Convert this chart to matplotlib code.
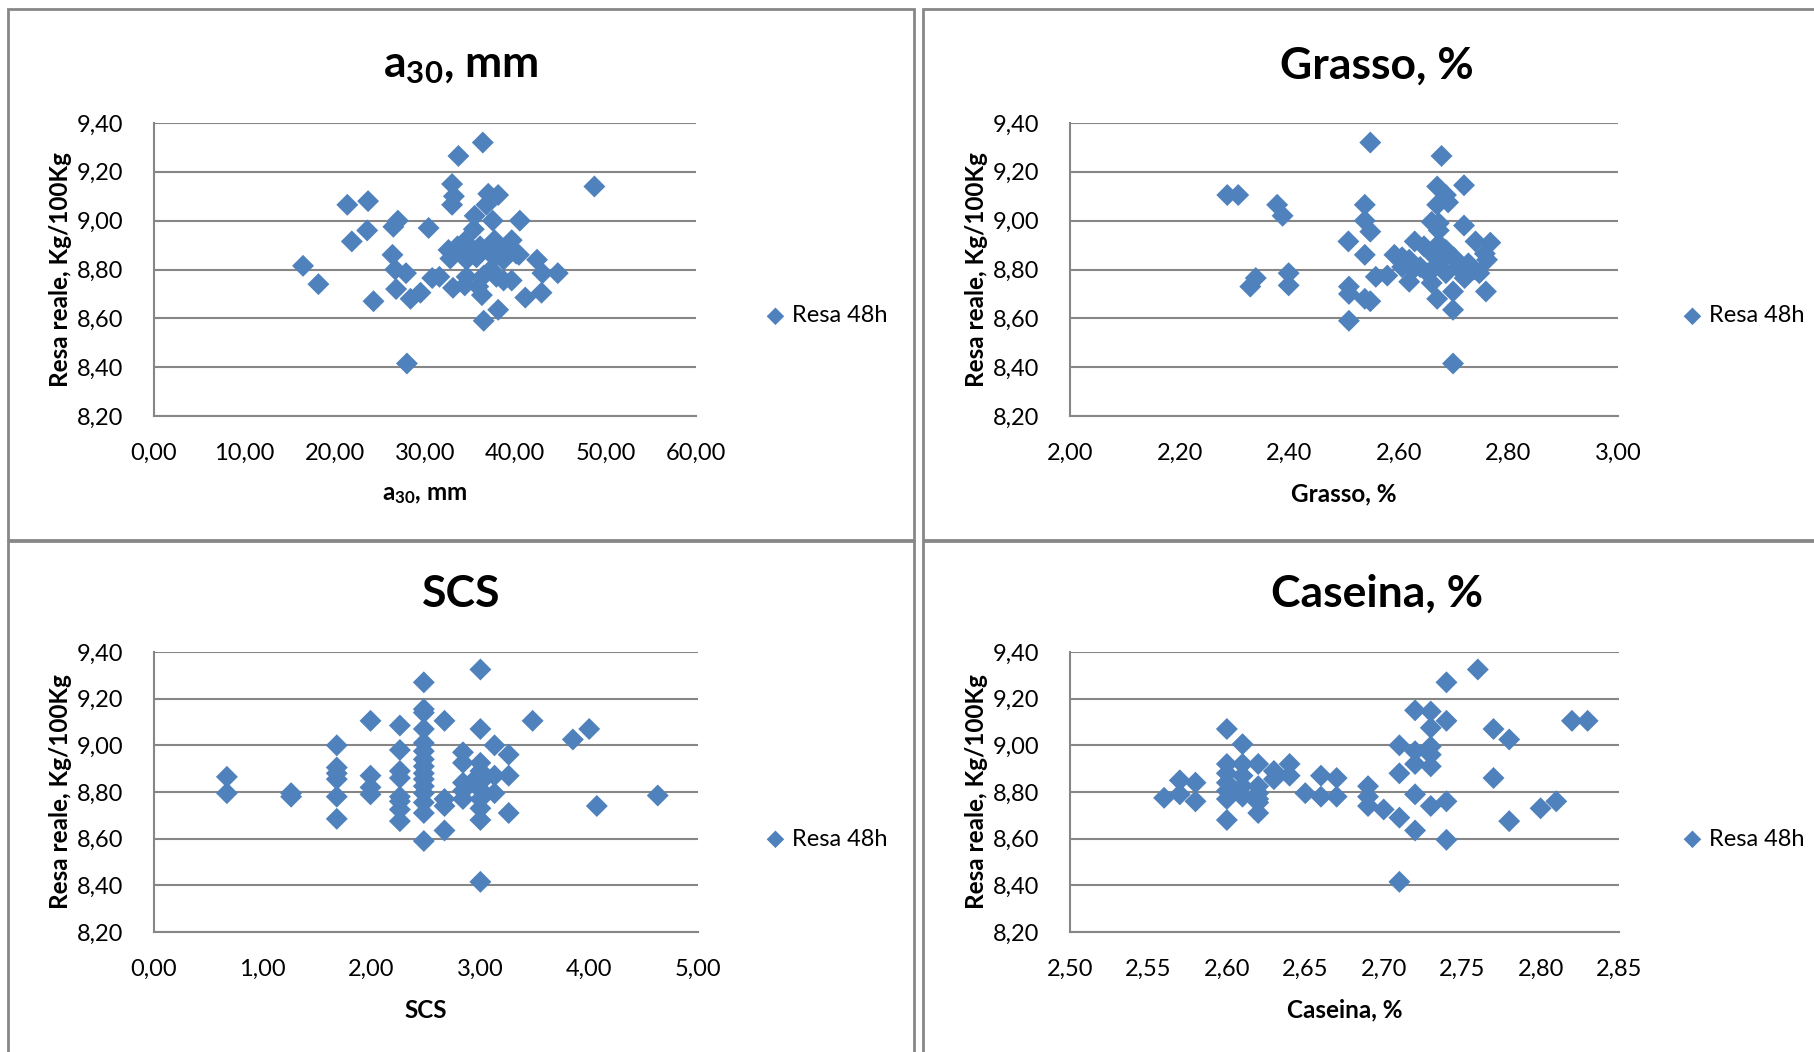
import matplotlib
matplotlib.use("Agg")
import matplotlib.pyplot as plt
from matplotlib.patches import Rectangle
from matplotlib.ticker import FuncFormatter, MultipleLocator

plt.rcParams['font.family'] = ['Lato', 'DejaVu Sans']
plt.rcParams['mathtext.fontset'] = 'custom'
plt.rcParams['mathtext.rm'] = 'Lato:bold'
plt.rcParams['mathtext.it'] = 'Lato:bold'
plt.rcParams['mathtext.bf'] = 'Lato:bold'
plt.rcParams['mathtext.default'] = 'rm'

# --- data (Resa reale, Kg/100Kg) ---
a30_x = [36.4, 33.7, 48.75, 33.0, 33.2, 33.0, 37.0, 38.1, 36.8, 21.4, 23.7, 35.5,
         37.5, 40.5, 27.0, 26.5, 30.4, 23.6, 21.9, 35.4, 16.5, 18.2, 26.4, 26.7,
         27.9, 26.8, 28.4, 29.5, 24.3, 30.8, 31.6, 28.0, 33.1, 36.5, 38.1, 41.1,
         42.9, 42.4, 43.0, 44.7, 39.6, 40.1, 37.7, 32.6, 32.8, 33.6, 34.4, 35.0,
         35.7, 34.6, 34.0, 36.1, 36.9, 37.7, 38.3, 38.7, 37.3, 36.5, 37.9, 38.7,
         39.6, 34.6, 34.4, 36.3, 35.9, 39.3, 40.4]
a30_y = [9.32, 9.265, 9.14, 9.15, 9.10, 9.065, 9.11, 9.105, 9.065, 9.065, 9.08, 9.02,
         9.00, 9.00, 9.00, 8.975, 8.97, 8.96, 8.915, 8.965, 8.815, 8.74, 8.86, 8.80,
         8.785, 8.72, 8.68, 8.705, 8.67, 8.765, 8.77, 8.415, 8.725, 8.59, 8.635, 8.685,
         8.705, 8.84, 8.785, 8.785, 8.92, 8.865, 8.92, 8.88, 8.845, 8.895, 8.915, 8.88,
         8.85, 8.84, 8.865, 8.895, 8.88, 8.85, 8.88, 8.84, 8.80, 8.775, 8.77, 8.755,
         8.755, 8.77, 8.735, 8.695, 8.73, 8.88, 8.86]

grasso_x = [2.548, 2.678, 2.719, 2.287, 2.307, 2.378, 2.388, 2.538, 2.538, 2.548,
            2.670, 2.686, 2.690, 2.670, 2.719, 2.508, 2.538, 2.339, 2.329, 2.399,
            2.399, 2.509, 2.509, 2.538, 2.548, 2.509, 2.699, 2.699, 2.670, 2.699,
            2.759, 2.619, 2.558, 2.579, 2.592, 2.606, 2.629, 2.660, 2.673, 2.740,
            2.767, 2.757, 2.761, 2.747, 2.720, 2.646, 2.660, 2.673, 2.686, 2.680,
            2.666, 2.653, 2.686, 2.707, 2.700, 2.639, 2.619, 2.626, 2.606, 2.660,
            2.727, 2.737, 2.673]
grasso_y = [9.32, 9.265, 9.145, 9.105, 9.105, 9.065, 9.02, 9.065, 9.00, 8.955,
            9.14, 9.105, 9.075, 9.065, 8.98, 8.915, 8.86, 8.765, 8.73, 8.785,
            8.735, 8.73, 8.70, 8.68, 8.67, 8.59, 8.415, 8.635, 8.68, 8.71,
            8.71, 8.75, 8.77, 8.775, 8.86, 8.85, 8.915, 8.995, 8.99, 8.915,
            8.91, 8.865, 8.84, 8.785, 8.765, 8.895, 8.865, 8.905, 8.88, 8.84,
            8.81, 8.785, 8.785, 8.81, 8.85, 8.81, 8.84, 8.80, 8.81, 8.745,
            8.825, 8.80, 8.96]

scs_x = [0.67, 0.67, 1.26, 1.26,
         1.68, 1.68, 1.68, 1.68, 1.68, 1.68,
         1.99, 1.99, 1.99, 1.99,
         2.26, 2.26, 2.26, 2.26, 2.26, 2.26, 2.26, 2.26,
         2.48, 2.48, 2.48, 2.48, 2.48, 2.48, 2.48, 2.48, 2.48, 2.48, 2.48, 2.48,
         2.48, 2.48, 2.48,
         2.67, 2.67, 2.67, 2.67,
         2.84, 2.84, 2.84, 2.84, 2.84,
         3.00, 3.00, 3.00, 3.00, 3.00, 3.00, 3.00, 3.00, 3.00, 3.00,
         3.13, 3.13, 3.13, 3.26, 3.26, 3.26, 3.48, 3.85, 4.00, 4.07, 4.63,
         2.93, 3.04]
scs_y = [8.865, 8.795, 8.795, 8.78,
         9.00, 8.905, 8.88, 8.855, 8.78, 8.685,
         9.105, 8.87, 8.82, 8.79,
         9.085, 8.98, 8.89, 8.86, 8.78, 8.76, 8.725, 8.675,
         9.27, 9.155, 9.14, 9.07, 9.01, 8.975, 8.94, 8.91, 8.88, 8.855, 8.825, 8.795,
         8.755, 8.71, 8.59,
         9.105, 8.77, 8.74, 8.635,
         8.97, 8.925, 8.84, 8.77, 8.805,
         9.325, 9.07, 8.925, 8.89, 8.855, 8.81, 8.77, 8.73, 8.68, 8.415,
         9.00, 8.87, 8.795, 8.96, 8.87, 8.71, 9.105, 9.025, 9.07, 8.74, 8.785,
         8.845, 8.86]

caseina_x = [2.56, 2.57, 2.57, 2.58, 2.58,
             2.60, 2.60, 2.60, 2.60, 2.60, 2.60, 2.60,
             2.61, 2.61, 2.61, 2.61, 2.61,
             2.62, 2.62, 2.62, 2.62, 2.62, 2.62,
             2.63, 2.63, 2.64, 2.64, 2.65, 2.66, 2.66, 2.67, 2.67,
             2.69, 2.69, 2.69, 2.70,
             2.71, 2.71, 2.71, 2.71,
             2.72, 2.72, 2.72, 2.72, 2.72,
             2.73, 2.73, 2.73, 2.73, 2.73, 2.73,
             2.74, 2.74, 2.74, 2.74,
             2.76, 2.77, 2.77, 2.78, 2.78, 2.80, 2.81, 2.82, 2.83]
caseina_y = [8.775, 8.85, 8.79, 8.84, 8.76,
             9.07, 8.92, 8.88, 8.84, 8.805, 8.77, 8.68,
             9.005, 8.92, 8.87, 8.825, 8.78,
             8.92, 8.825, 8.795, 8.755, 8.71, 8.77,
             8.89, 8.855, 8.92, 8.87, 8.795, 8.87, 8.78, 8.86, 8.78,
             8.825, 8.78, 8.74, 8.725,
             9.00, 8.88, 8.69, 8.415,
             9.15, 8.975, 8.92, 8.79, 8.635,
             9.145, 9.075, 8.995, 8.96, 8.91, 8.74,
             9.27, 9.105, 8.76, 8.595,
             9.325, 9.07, 8.86, 9.025, 8.675, 8.73, 8.76, 9.105, 9.105]

titles = ["a$_{30}$, mm", "Grasso, %", "SCS", "Caseina, %"]
y_label = "Resa reale, Kg/100Kg"
series_name = "Resa 48h"
x_limits = [(0, 60, 10), (2.0, 3.0, 0.2), (0, 5, 1), (2.5, 2.85, 0.05)]
y_limits = (8.2, 9.4, 0.2)

W, H = 1815, 1052
BLUE = '#4F81BD'
GRID = '#868686'


def fig_rect(x0, y0, x1, y1):
    """pixel box (top-left origin) -> figure fraction rect"""
    return [x0 / W, 1 - y1 / H, (x1 - x0) / W, (y1 - y0) / H]


def comma_fmt(v, _):
    return f"{v:.2f}".replace('.', ',')


fig = plt.figure(figsize=(W / 100, H / 100), dpi=100)

# panel frames
frames = [(8, 9, 914, 540), (923, 9, 1835, 540), (8, 541, 914, 1070), (923, 541, 1835, 1070)]
for fx0, fy0, fx1, fy1 in frames:
    fig.patches.append(Rectangle((fx0 / W, 1 - fy1 / H), (fx1 - fx0) / W, (fy1 - fy0) / H,
                                 transform=fig.transFigure, fill=False,
                                 edgecolor='#878787', linewidth=2))

plot_boxes = [(154, 123, 696, 416), (1070, 123, 1618, 416),
              (154, 652, 698, 932), (1070, 652, 1619, 932)]
data = [(a30_x, a30_y), (grasso_x, grasso_y), (scs_x, scs_y), (caseina_x, caseina_y)]

for i, ((px0, py0, px1, py1), (xs, ys), title, (xlo, xhi, xstep)) in enumerate(
        zip(plot_boxes, data, titles, x_limits)):
    ax = fig.add_axes(fig_rect(px0, py0, px1, py1))
    ax.scatter(xs, ys, marker='D', s=125, color=BLUE, edgecolors='none',
               label=series_name, zorder=3)
    ax.set_xlim(xlo, xhi)
    ax.set_ylim(y_limits[0], y_limits[1])
    ax.xaxis.set_major_locator(MultipleLocator(xstep))
    ax.yaxis.set_major_locator(MultipleLocator(y_limits[2]))
    ax.xaxis.set_major_formatter(FuncFormatter(comma_fmt))
    ax.yaxis.set_major_formatter(FuncFormatter(comma_fmt))
    ax.grid(axis='y', color=GRID, linewidth=1.5)
    ax.set_axisbelow(True)
    for side in ['top', 'right']:
        ax.spines[side].set_visible(False)
    for side in ['left', 'bottom']:
        ax.spines[side].set_color(GRID)
        ax.spines[side].set_linewidth(1.5)
    ax.tick_params(length=0, labelsize=17)
    ax.tick_params(axis='y', pad=22)
    ax.tick_params(axis='x', pad=19.5)

    # title centred on the panel frame
    fx0, fy0, fx1, fy1 = frames[i]
    cx = (fx0 + min(fx1, 1831)) / 2 / W
    ty = 66 if i < 2 else 594
    fig.text(cx, 1 - ty / H, title, ha='center', va='center',
             fontsize=32, fontweight='bold')

    # axis labels
    fig.text((px0 + px1) / 2 / W, 1 - (py1 + 78) / H, title, ha='center',
             va='center', fontsize=17.5, fontweight='bold')
    fig.text((px0 - 93) / W, 1 - (py0 + py1) / 2 / H, y_label, ha='center',
             va='center', rotation=90, fontsize=17.5, fontweight='bold')

    # legend to the right of the plot area
    lx = 766 if i % 2 == 0 else 1683
    ly = 316 if i < 2 else 839
    ax.legend(loc='center left', bbox_to_anchor=(lx / W, 1 - ly / H),
              bbox_transform=fig.transFigure, frameon=False, fontsize=17,
              handlelength=0.8, handletextpad=0.3, markerscale=0.8,
              borderpad=0, borderaxespad=0)

fig.savefig('out.png', dpi=100, facecolor='white')
